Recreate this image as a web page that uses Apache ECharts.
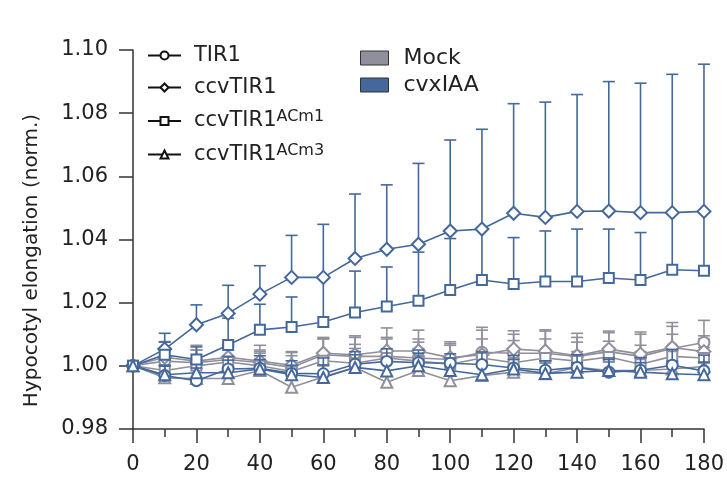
<!DOCTYPE html>
<html>
<head>
<meta charset="utf-8">
<script src="https://cdn.jsdelivr.net/npm/echarts@6/dist/echarts.min.js"></script>
<style>
  html, body { margin: 0; padding: 0; background: #fff; }
  #chart { width: 727px; height: 477px; }
</style>
</head>
<body>
<div id="chart"></div>
<script>
// time (min)
var times = [0, 10, 20, 30, 40, 50, 60, 70, 80, 90, 100, 110, 120, 130, 140, 150, 160, 170, 180];

// cvxIAA treated
var tir1Cvx = [1.000, 0.9969, 0.9953, 0.9990, 0.9992, 0.9976, 0.9975, 1.0005, 1.0014, 1.0010, 1.0008, 1.0004, 0.9993, 0.9986, 0.9995, 0.9980, 0.9986, 1.0002, 0.9984];
var ccvCvx = [1.000, 1.0053, 1.0130, 1.0166, 1.0227, 1.0280, 1.0280, 1.0340, 1.0369, 1.0385, 1.0427, 1.0433, 1.0483, 1.0470, 1.0489, 1.0490, 1.0485, 1.0485, 1.0489];
var acm1Cvx = [1.000, 1.0035, 1.0020, 1.0066, 1.0114, 1.0123, 1.0139, 1.0169, 1.0188, 1.0206, 1.0240, 1.0272, 1.0259, 1.0267, 1.0267, 1.0278, 1.0272, 1.0304, 1.0301];
var acm3Cvx = [1.000, 0.9972, 0.9978, 0.9978, 0.9990, 0.9972, 0.9963, 0.9995, 0.9984, 1.0000, 0.9985, 0.9972, 0.9990, 0.9976, 0.9980, 0.9985, 0.9980, 0.9975, 0.9972];

var tir1CvxErr = [0, 0.003, 0.004, 0.004, 0.004, 0.004, 0.005, 0.004, 0.004, 0.004, 0.003, 0.004, 0.004, 0.003, 0.004, 0.004, 0.004, 0.005, 0.005];
var ccvCvxErr = [0, 0.0050, 0.0063, 0.0089, 0.0090, 0.0133, 0.0168, 0.0204, 0.0204, 0.0256, 0.0288, 0.0316, 0.0347, 0.0365, 0.0370, 0.0410, 0.0410, 0.0438, 0.0466];
var acm1CvxErr = [0, 0.0040, 0.0040, 0.0085, 0.0081, 0.0095, 0.0145, 0.0131, 0.0125, 0.0154, 0.0163, 0.0161, 0.0147, 0.0160, 0.0166, 0.0155, 0.0150, 0.0180, 0.0188];
var acm3CvxErr = [0, 0.003, 0.003, 0.004, 0.003, 0.003, 0.004, 0.004, 0.003, 0.004, 0.004, 0.003, 0.003, 0.004, 0.003, 0.004, 0.003, 0.004, 0.004];

// mock treated
var tir1Mock = [1.000, 1.0015, 1.0010, 1.0020, 1.0010, 0.9995, 1.0035, 1.0030, 1.0030, 1.0025, 1.0020, 1.0043, 1.0040, 1.0040, 1.0030, 1.0045, 1.0030, 1.0055, 1.0074];
var ccvMock = [1.000, 1.0027, 1.0015, 1.0027, 1.0015, 1.0002, 1.0040, 1.0035, 1.0047, 1.0047, 1.0026, 1.0035, 1.0053, 1.0047, 1.0032, 1.0053, 1.0037, 1.0058, 1.0045];
var acm1Mock = [1.000, 0.9985, 1.0000, 1.0012, 1.0000, 0.9982, 1.0016, 1.0008, 1.0025, 1.0015, 1.0005, 1.0025, 1.0010, 1.0025, 1.0015, 1.0028, 1.0005, 1.0030, 1.0025];
var acm3Mock = [1.000, 0.9962, 0.9960, 0.9960, 0.9985, 0.9932, 0.9965, 0.9995, 0.9948, 0.9985, 0.9953, 0.9969, 0.9980, 0.9975, 0.9995, 0.9985, 0.9985, 0.9990, 0.9998];

var tir1MockErr = [0, 0.004, 0.004, 0.005, 0.004, 0.005, 0.005, 0.006, 0.006, 0.006, 0.005, 0.007, 0.006, 0.007, 0.006, 0.006, 0.007, 0.007, 0.007];
var ccvMockErr = [0, 0.005, 0.005, 0.004, 0.005, 0.004, 0.005, 0.006, 0.0073, 0.0066, 0.005, 0.0087, 0.0058, 0.0067, 0.0071, 0.0057, 0.007, 0.0079, 0.005];
var acm1MockErr = [0, 0.004, 0.005, 0.005, 0.004, 0.005, 0.007, 0.006, 0.006, 0.006, 0.006, 0.006, 0.007, 0.006, 0.006, 0.005, 0.006, 0.007, 0.006];
var acm3MockErr = [0, 0.005, 0.005, 0.006, 0.006, 0.006, 0.006, 0.006, 0.008, 0.007, 0.006, 0.007, 0.006, 0.006, 0.005, 0.006, 0.006, 0.006, 0.006];

var genotypes = ['TIR1', 'ccvTIR1', 'ccvTIR1ACm1', 'ccvTIR1ACm3'];
var treatments = ['Mock', 'cvxIAA'];

var GREY = '#8f909c';
var BLUE = '#44689c';
var FONT = 'DejaVu Sans';

var symbols = ['emptyCircle', 'emptyDiamond', 'emptyRect', 'emptyTriangle'];
var symbolSizes = [11, 13, 10, 11];

function pairs(vals) {
  var out = [];
  for (var i = 0; i < times.length; i++) out.push([times[i], vals[i]]);
  return out;
}
function errPairs(vals, errs) {
  var out = [];
  for (var i = 0; i < times.length; i++) {
    if (errs[i] > 0) out.push([times[i], vals[i], vals[i] + errs[i]]);
  }
  return out;
}

function errorBar(color) {
  return function (params, api) {
    var lo = api.coord([api.value(0), api.value(1)]);
    var hi = api.coord([api.value(0), api.value(2)]);
    var half = 6;
    return {
      type: 'group',
      children: [
        { type: 'line', shape: { x1: lo[0], y1: lo[1], x2: hi[0], y2: hi[1] },
          style: { stroke: color, lineWidth: 1.6 } },
        { type: 'line', shape: { x1: hi[0] - half, y1: hi[1], x2: hi[0] + half, y2: hi[1] },
          style: { stroke: color, lineWidth: 1.6 } }
      ]
    };
  };
}

var groups = [
  { color: GREY, vals: [tir1Mock, ccvMock, acm1Mock, acm3Mock], errs: [tir1MockErr, ccvMockErr, acm1MockErr, acm3MockErr] },
  { color: BLUE, vals: [tir1Cvx, ccvCvx, acm1Cvx, acm3Cvx], errs: [tir1CvxErr, ccvCvxErr, acm1CvxErr, acm3CvxErr] }
];

var series = [];
groups.forEach(function (g, gi) {
  for (var k = 0; k < 4; k++) {
    series.push({
      name: treatments[gi] + ' ' + genotypes[k] + ' err',
      type: 'custom',
      renderItem: errorBar(g.color),
      data: errPairs(g.vals[k], g.errs[k]),
      z: 1 + gi * 3,
      silent: true
    });
    series.push({
      name: treatments[gi] + ' ' + genotypes[k],
      type: 'line',
      data: pairs(g.vals[k]),
      symbol: symbols[k],
      symbolSize: symbolSizes[k],
      color: g.color,
      lineStyle: { color: g.color, width: 1.6 },
      itemStyle: { color: g.color, borderWidth: 1.6 },
      z: 2 + gi * 3
    });
  }
});

// legend-only series
for (var k = 0; k < 4; k++) {
  series.push({
    name: genotypes[k], type: 'line', data: [],
    symbol: symbols[k], color: '#111',
    lineStyle: { color: '#111', width: 2.2 },
    itemStyle: { color: '#111' }
  });
}
series.push({ name: 'Mock', type: 'line', data: [], color: GREY, itemStyle: { color: GREY } });
series.push({ name: 'cvxIAA', type: 'line', data: [], color: BLUE, itemStyle: { color: BLUE } });

var chart = echarts.init(document.getElementById('chart'));
chart.setOption({
  animation: false,
  backgroundColor: '#fff',
  grid: { left: 133, right: 23, top: 50, bottom: 48 },
  legend: [
    {
      data: genotypes,
      orient: 'vertical',
      left: 142, top: 40,
      itemWidth: 33, itemHeight: 10, itemGap: 11,
      selectedMode: false,
      textStyle: {
        fontFamily: FONT, fontSize: 21, color: '#222',
        rich: {
          b: { fontFamily: FONT, fontSize: 21, color: '#222', lineHeight: 24, padding: [0, 0, 0, 8] },
          s: { fontFamily: FONT, fontSize: 16, color: '#222', lineHeight: 14, verticalAlign: 'top' }
        }
      },
      formatter: function (name) {
        var m = name.match(/^(ccvTIR1)(ACm\d)$/);
        if (m) return '{b|' + m[1] + '}{s|' + m[2] + '}';
        return '{b|' + name + '}';
      }
    },
    {
      data: [
        { name: 'Mock', icon: 'rect', itemStyle: { color: GREY, borderColor: '#333', borderWidth: 1 } },
        { name: 'cvxIAA', icon: 'rect', itemStyle: { color: BLUE, borderColor: '#333', borderWidth: 1 } }
      ],
      orient: 'vertical',
      left: 355, top: 42,
      itemWidth: 28, itemHeight: 14, itemGap: 5,
      selectedMode: false,
      textStyle: {
        fontFamily: FONT, fontSize: 22, color: '#222',
        rich: { b: { fontFamily: FONT, fontSize: 22, color: '#222', lineHeight: 25, padding: [0, 0, 0, 10] } }
      },
      formatter: function (name) { return '{b|' + name + '}'; }
    }
  ],
  xAxis: {
    type: 'value', min: 0, max: 180, interval: 20,
    axisLine: { lineStyle: { color: '#333', width: 1.5 } },
    axisTick: { inside: false, length: 14, lineStyle: { color: '#333', width: 1.5 } },
    minorTick: { show: true, splitNumber: 2, length: 8, lineStyle: { color: '#333', width: 1.5 } },
    axisLabel: { fontFamily: FONT, fontSize: 21, color: '#222', margin: 25 },
    splitLine: { show: false }
  },
  yAxis: {
    type: 'value', min: 0.98, max: 1.10, interval: 0.02,
    name: 'Hypocotyl elongation (norm.)',
    nameLocation: 'middle', nameGap: 91,
    nameTextStyle: { fontFamily: FONT, fontSize: 20, color: '#222', padding: [0, 42, 0, 0] },
    axisLine: { show: true, lineStyle: { color: '#333', width: 1.5 } },
    axisTick: { show: true, inside: false, length: 14, lineStyle: { color: '#333', width: 1.5 } },
    axisLabel: {
      fontFamily: FONT, fontSize: 21, color: '#222', margin: 25,
      formatter: function (v) { return v.toFixed(2); }
    },
    splitLine: { show: false }
  },
  series: series
});
</script>
</body>
</html>
